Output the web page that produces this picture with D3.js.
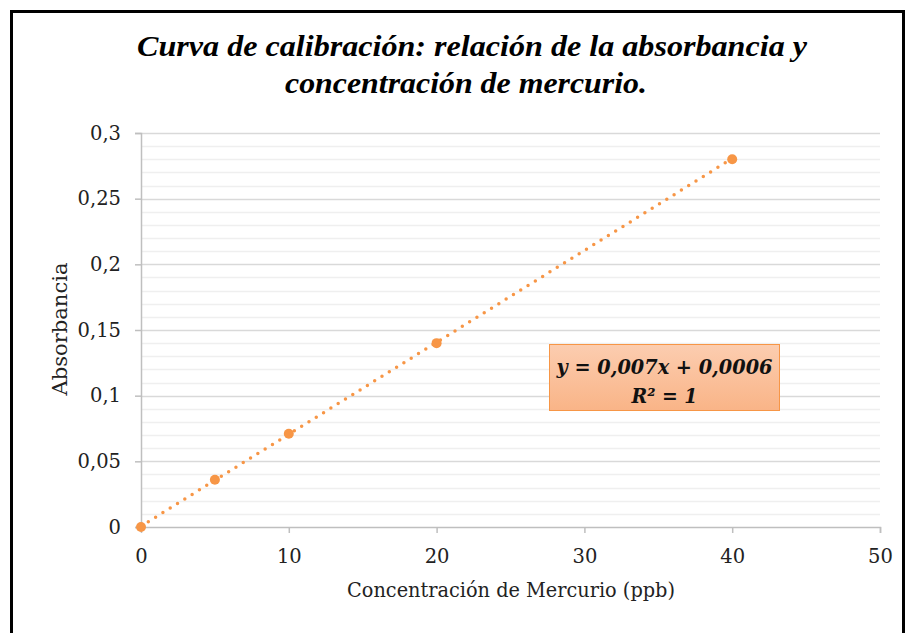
<!DOCTYPE html>
<html>
<head>
<meta charset="utf-8">
<script src="https://cdn.jsdelivr.net/npm/d3@7"></script>
<style>
body{margin:0;background:#fff;}
svg{display:block;}
</style>
</head>
<body>
<div id="chart"></div>
<script>
var concentracion = [0, 5, 10, 20, 40];
var absorbancia = [0, 0.036, 0.071, 0.14, 0.28];
var xTicks = [0, 10, 20, 30, 40, 50];
var yTicks = [0, 0.05, 0.1, 0.15, 0.2, 0.25, 0.3];
var tituloLineas = ["Curva de calibración: relación de la absorbancia y", "concentración de mercurio."];
var pendiente = 0.007, intercepto = 0.0006;

var W = 906, H = 633;
var margin = {l:141, r:26, t:133, b:106};
var orange = "#f79646";
var serif = "'Liberation Serif', 'DejaVu Serif', serif";
var wide = "'DejaVu Serif', serif";

var svg = d3.select("#chart").append("svg")
	.attr("width", W).attr("height", H);

var defs = svg.append("defs");
var grad = defs.append("linearGradient").attr("id","boxgrad")
	.attr("x1",0).attr("y1",0).attr("x2",0).attr("y2",1);
grad.append("stop").attr("offset","0%").attr("stop-color","#fccdb0");
grad.append("stop").attr("offset","100%").attr("stop-color","#f9b487");

// outer frame
svg.append("rect").attr("x",11.5).attr("y",11.5).attr("width",892).attr("height",640)
	.style("fill","#fff").style("stroke","#000").style("stroke-width",3);

var X = d3.scaleLinear().domain([0,50]).range([margin.l, W-margin.r]);
var Y = d3.scaleLinear().domain([0,0.3]).range([H-margin.b, margin.t]);

// minor gridlines
var minor = d3.range(1,30).filter(function(i){return i%5!=0}).map(function(i){return i/100});
svg.selectAll(".minor").data(minor).enter().append("line")
	.attr("class","minor")
	.attr("x1",X(0)).attr("x2",X(50))
	.attr("y1",function(d){return Math.round(Y(d))+0.5}).attr("y2",function(d){return Math.round(Y(d))+0.5})
	.style("stroke","#efefef").style("stroke-width",1.5);

// major gridlines
svg.selectAll(".major").data(yTicks.slice(1)).enter().append("line")
	.attr("class","major")
	.attr("x1",X(0)).attr("x2",X(50))
	.attr("y1",function(d){return Math.round(Y(d))+0.5}).attr("y2",function(d){return Math.round(Y(d))+0.5})
	.style("stroke","#d9d9d9").style("stroke-width",1.5);

// axes
var yAxis = svg.append("g").attr("transform","translate("+X(0)+",0)")
	.call(d3.axisLeft(Y).tickValues(yTicks).tickSize(6).tickPadding(14)
		.tickFormat(function(d){return String(+d.toFixed(2)).replace(".",",")}));
var xAxis = svg.append("g").attr("transform","translate(0,"+Y(0)+")")
	.call(d3.axisBottom(X).tickValues(xTicks).tickSize(6).tickPadding(16));

[yAxis, xAxis].forEach(function(a){
	a.select(".domain").style("stroke","#bfbfbf").style("stroke-width",1.5);
	a.selectAll(".tick line").style("stroke","#bfbfbf").style("stroke-width",1.5);
	a.selectAll(".tick text").style("font-family",wide).style("font-size","19.5px").style("fill","#222");
});
xAxis.selectAll(".tick").filter(function(d){return d==0}).select("line").remove();

// trendline
var trend = [0,40].map(function(x){return {x:x, y:pendiente*x+intercepto}});
svg.append("path").datum(trend)
	.attr("d", d3.line().x(function(d){return X(d.x)}).y(function(d){return Y(d.y)}))
	.style("fill","none").style("stroke",orange).style("stroke-width",3.5)
	.style("stroke-linecap","round").style("stroke-dasharray","0,8.6");

// points
svg.selectAll(".pt").data(concentracion).enter().append("circle")
	.attr("class","pt")
	.attr("cx",function(d){return X(d)})
	.attr("cy",function(d,i){return Y(absorbancia[i])})
	.attr("r",5)
	.style("fill",orange);

// title
svg.selectAll(".title").data(tituloLineas).enter().append("text")
	.attr("class","title")
	.attr("x",function(d,i){return i==0 ? 472 : 466})
	.attr("y",function(d,i){return 56+i*37})
	.attr("text-anchor","middle")
	.attr("textLength",function(d,i){return i==0 ? 670 : 362})
	.attr("lengthAdjust","spacingAndGlyphs")
	.style("font-family",serif).style("font-weight","bold").style("font-style","italic")
	.style("font-size","30px").style("fill","#000")
	.text(function(d){return d});

// axis titles
svg.append("text")
	.attr("x",511).attr("y",597).attr("text-anchor","middle")
	.attr("textLength",328).attr("lengthAdjust","spacingAndGlyphs")
	.style("font-family",wide).style("font-size","20px").style("fill","#222")
	.text("Concentración de Mercurio (ppb)");
svg.append("text")
	.attr("transform","translate(67,329) rotate(-90)").attr("text-anchor","middle")
	.attr("textLength",133).attr("lengthAdjust","spacingAndGlyphs")
	.style("font-family",wide).style("font-size","20px").style("fill","#222")
	.text("Absorbancia");

// equation box
var box = svg.append("g").attr("transform","translate(549.5,344.5)");
box.append("rect").attr("width",230).attr("height",66)
	.style("fill","url(#boxgrad)").style("stroke",orange).style("stroke-width",1);
box.append("text").attr("x",115).attr("y",29).attr("text-anchor","middle")
	.attr("textLength",216).attr("lengthAdjust","spacingAndGlyphs")
	.style("font-family",wide).style("font-weight","bold").style("font-style","italic")
	.style("font-size","20px").style("fill","#111")
	.text("y = " + String(pendiente).replace(".",",") + "x + " + String(intercepto).replace(".",","));
box.append("text").attr("x",115).attr("y",58).attr("text-anchor","middle")
	.attr("textLength",66).attr("lengthAdjust","spacingAndGlyphs")
	.style("font-family",wide).style("font-weight","bold").style("font-style","italic")
	.style("font-size","20px").style("fill","#111")
	.text("R² = 1");
</script>
</body>
</html>
